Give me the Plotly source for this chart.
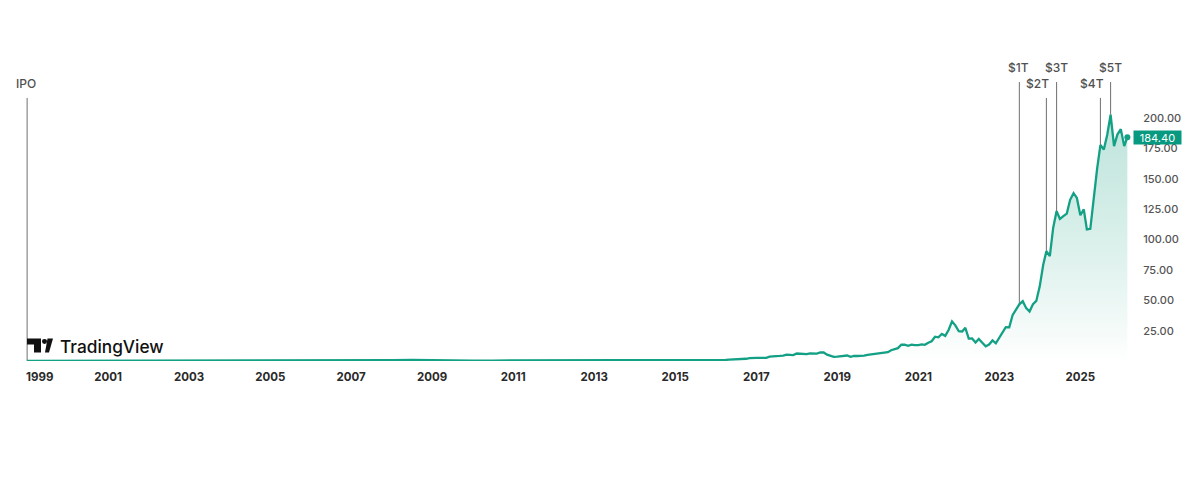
import pandas as pd
import plotly.graph_objects as go

# half-yearly points, 1999-01 .. 2015-07 (line is flat here)
early_dates = pd.date_range("1999-01-01", "2015-07-01", freq="6MS")
early_close = [0.04, 0.05, 0.17, 0.35, 0.32, 0.45, 0.25, 0.10, 0.12, 0.20, 0.15, 0.16, 0.17, 0.16, 0.25, 0.30,
               0.45, 0.32, 0.65, 0.85, 0.50, 0.14, 0.19, 0.38, 0.40, 0.26, 0.45, 0.36, 0.32, 0.28, 0.30, 0.36,
               0.35, 0.47]

# monthly closes from 2016
monthly_dates = pd.date_range("2016-01-01", "2026-03-01", freq="MS")
close_2016 = [0.62, 0.60, 0.78, 0.87, 1.16, 1.18, 1.43, 1.53, 1.71, 1.84, 2.37, 2.67]
close_2017 = [2.60, 2.50, 2.72, 2.60, 3.60, 3.60, 4.07, 4.20, 4.47, 5.17, 5.02, 4.84]
close_2018 = [6.15, 6.01, 5.79, 5.60, 6.26, 5.92, 6.09, 7.02, 7.03, 5.27, 4.05, 3.34]
close_2019 = [3.59, 3.84, 4.49, 4.52, 3.38, 4.11, 4.12, 4.19, 4.35, 5.03, 5.40, 5.86]
close_2020 = [5.90, 6.73, 6.59, 7.30, 8.90, 9.50, 10.6, 13.4, 13.5, 12.5, 13.4, 13.05]
close_2021 = [13.0, 13.7, 13.3, 15.0, 16.3, 20.0, 19.5, 22.3, 20.7, 25.5, 32.6, 29.4]
close_2022 = [24.5, 24.3, 27.3, 18.5, 18.6, 15.2, 18.2, 15.1, 12.1, 13.5, 16.9, 14.6]
close_2023 = [19.5, 23.2, 27.8, 27.7, 37.8, 42.3, 46.7, 49.3, 43.5, 40.8, 46.8, 49.5]
close_2024 = [61.5, 79.1, 90.4, 86.4, 109.6, 123.5, 117.0, 119.4, 121.4, 132.8, 138.3, 134.3]
close_2025 = [120.1, 124.9, 108.4, 108.9, 135.1, 158.0, 177.9, 174.2, 186.6, 202.9, 177.0, 186.5]
close_2026 = [191.0, 177.0, 184.4]
monthly_close = (close_2016 + close_2017 + close_2018 + close_2019 + close_2020 + close_2021
                 + close_2022 + close_2023 + close_2024 + close_2025 + close_2026)

dates = list(early_dates) + list(monthly_dates)
close = early_close + monthly_close

year_labels = ["2001", "2003", "2005", "2007", "2009", "2011", "2013", "2015", "2017", "2019", "2021", "2023", "2025"]
price_ticks = [25, 50, 75, 100, 125, 150, 175, 200]

milestones = ["IPO", "$1T", "$2T", "$3T", "$4T", "$5T"]
milestone_dates = ["1999-01-01", "2023-07-01", "2024-03-01", "2024-06-01", "2025-07-01", "2025-10-01"]
milestone_close = [0, 46.7, 90.4, 123.5, 177.9, 202.9]
milestone_top = [216.7, 229.8, 216.7, 229.8, 216.7, 229.8]
milestone_shift = [-1, -1, -9, 0, -8, 0]

GREEN = "#13a085"
# the page body has an 8px margin, so the figure starts at (8, 8) on screen
W, H = 1192, 472
L, R, T, B = 26, 1136, 70, 361.5


def px(x):
    return (x - L) / (R - L)


def py(y):
    return (B - y) / (B - T)


fig = go.Figure()

fig.add_trace(go.Scatter(
    x=dates, y=close, mode="lines",
    line=dict(color=GREEN, width=2.3),
    fill="tozeroy",
    fillgradient=dict(type="vertical", colorscale=[[0, "rgba(255,255,255,1)"], [1, "rgba(170,220,208,0.75)"]]),
    hoverinfo="skip",
))
fig.add_trace(go.Scatter(
    x=[dates[-1]], y=[close[-1]], mode="markers",
    marker=dict(color=GREEN, size=6),
    hoverinfo="skip",
))

for name, d, c, top, shift in zip(milestones, milestone_dates, milestone_close, milestone_top, milestone_shift):
    fig.add_shape(type="line", x0=d, x1=d, y0=c, y1=top, xref="x", yref="y",
                  line=dict(color="#6f6f6f", width=1), layer="below")
    fig.add_annotation(x=d, y=top, text=name, showarrow=False, xanchor="center", yanchor="bottom",
                       xshift=shift, yshift=5, font=dict(family="Inter", size=12, color="#505050", weight=500))

# 1999 sits left aligned at the edge, the axis would clip it
fig.add_annotation(x=px(26), y=py(378), xref="paper", yref="paper", text="<b>1999</b>", showarrow=False,
                   xanchor="left", yanchor="middle", xshift=-2,
                   font=dict(family="Inter", size=11.5, color="#2a2a2a"))

# price badge
fig.add_annotation(x=px(1133), y=close[-1], xref="paper", yref="y", text=f"{close[-1]:.2f}", showarrow=False,
                   xanchor="left", yanchor="middle", width=47, height=13, bgcolor="#089981", borderpad=0,
                   font=dict(family="Inter", size=11, color="white"))

# TradingView logo
logo_t = "M {} {} L {} {} L {} {} L {} {} L {} {} L {} {} Z".format(
    px(27), py(339), px(41), py(339), px(41), py(353), px(34), py(353), px(34), py(345), px(27), py(345))
logo_7 = "M {} {} L {} {} L {} {} L {} {} Z".format(
    px(45), py(353), px(47.5), py(339), px(53), py(339), px(49), py(353))
fig.add_shape(type="path", path=logo_t, xref="paper", yref="paper", fillcolor="#111111", line_width=0)
fig.add_shape(type="path", path=logo_7, xref="paper", yref="paper", fillcolor="#111111", line_width=0)
fig.add_shape(type="circle", xref="paper", yref="paper", x0=px(42), x1=px(47), y0=py(339.5), y1=py(344.5),
              fillcolor="#111111", line_width=0)
fig.add_annotation(x=px(58), y=py(347), xref="paper", yref="paper", text="TradingView", showarrow=False,
                   xanchor="left", yanchor="middle", font=dict(family="Inter", size=17.3, color="#111111", weight=500))

fig.update_layout(
    width=W, height=H,
    margin=dict(l=L - 8, r=W + 8 - R, t=T - 8, b=H + 8 - B, autoexpand=False),
    paper_bgcolor="white", plot_bgcolor="white",
    showlegend=False,
    xaxis=dict(
        type="date", range=["1998-12-22", "2026-05-18"],
        tickvals=[y + "-01-01" for y in year_labels],
        ticktext=["<b>" + y + "</b>" for y in year_labels],
        tickfont=dict(family="Inter", size=11.5, color="#2a2a2a"),
        ticklen=5, tickcolor="white", ticks="outside", showgrid=False, zeroline=False, showline=False,
    ),
    yaxis=dict(
        side="right", range=[0, (B - T) / 1.216],
        tickvals=price_ticks, ticktext=[f"{t:.2f}" for t in price_ticks],
        tickfont=dict(family="Inter", size=11, color="#555555", weight=500),
        ticks="outside", ticklen=4, tickcolor="white",
        showgrid=False, zeroline=False, showline=False,
    ),
)

fig.write_html("out.html")
